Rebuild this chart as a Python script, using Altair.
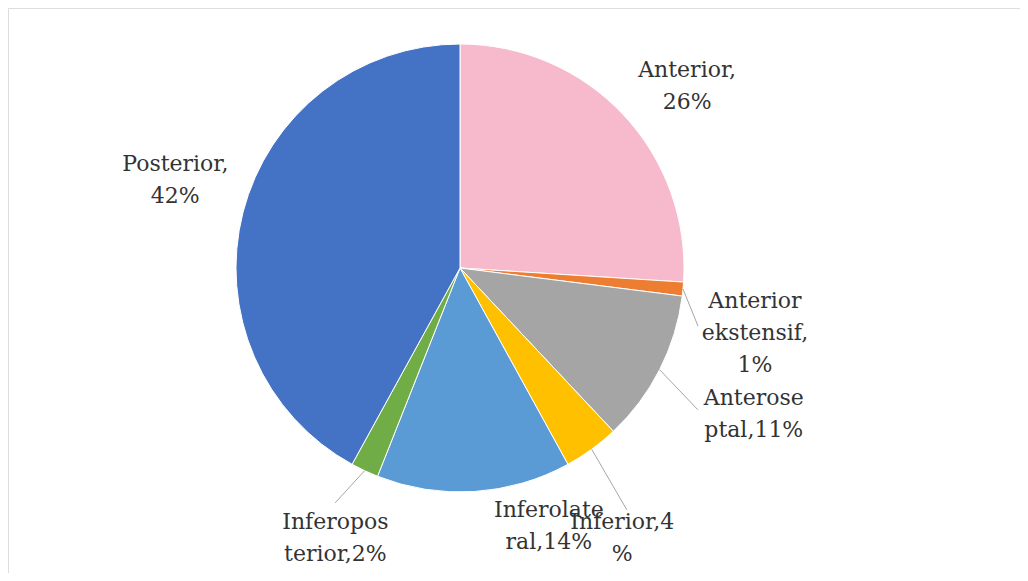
import math
import altair as alt
import pandas as pd

# ---- data ----
categories = ["Anterior", "Anterior ekstensif", "Anteroseptal", "Inferior",
              "Inferolateral", "Inferoposterior", "Posterior"]
values = [26, 1, 11, 4, 14, 2, 42]
label_texts = ["Anterior,\n26%", "Anterior\nekstensif,\n1%", "Anterose\nptal,11%",
               "Inferior,4\n%", "Inferolate\nral,14%", "Inferopos\nterior,2%",
               "Posterior,\n42%"]
colors = ["#F7B9CC", "#ED7D31", "#A5A5A5", "#FFC000", "#5B9BD5", "#70AD47", "#4472C4"]

# ---- layout (label placement, polar: degrees clockwise from top, px from centre) ----
CX, CY, R = 452, 260, 224
LH = 32
label_angle = [51.3, 102.4, 116.4, 149.0, 161.0, 204.8, 287.2]
label_radius = [291, 302, 328, 315, 273, 297, 298]
leader = {  # category -> (end angle, end radius)
    "Anterior ekstensif": (103.7, 245),
    "Anteroseptal": (120.8, 277),
    "Inferior": (145.4, 294),
    "Inferoposterior": (208.0, 266),
}

total = sum(values)
rows = []
cum = 0
for i, (c, v) in enumerate(zip(categories, values)):
    mid = (cum + v / 2) / total * 360
    cum += v
    la, lr = math.radians(label_angle[i]), label_radius[i]
    n = label_texts[i].count("\n") + 1
    rows.append(dict(idx=i, category=c, value=v, label=label_texts[i],
                     lx=CX + lr * math.sin(la),
                     ly=CY - lr * math.cos(la) - (n - 1) * LH / 2,
                     mid=mid))
df = pd.DataFrame(rows)

lines = []
for c, (ea, er) in leader.items():
    mid = df.loc[df.category == c, "mid"].iloc[0]
    m = math.radians(mid)
    e = math.radians(ea)
    lines.append(dict(category=c,
                      x=CX + R * math.sin(m), y=CY - R * math.cos(m),
                      x2=CX + er * math.sin(e), y2=CY - er * math.cos(e)))
ldf = pd.DataFrame(lines)

pie = alt.Chart(df).mark_arc(radius=R, stroke="white", strokeWidth=1).encode(
    theta=alt.Theta("value:Q", stack=True),
    color=alt.Color("category:N", scale=alt.Scale(domain=categories, range=colors), legend=None),
    order=alt.Order("idx:Q"),
    x=alt.value(CX),
    y=alt.value(CY),
)

rules = alt.Chart(ldf).mark_rule(color="#A6A6A6", strokeWidth=1).encode(
    x=alt.X("x:Q", scale=None),
    y=alt.Y("y:Q", scale=None),
    x2="x2:Q",
    y2="y2:Q",
)

labels = alt.Chart(df).mark_text(
    font="DejaVu Serif", fontSize=22, color="#333333",
    lineBreak="\n", lineHeight=LH, align="center", baseline="middle",
).encode(
    x=alt.X("lx:Q", scale=None),
    y=alt.Y("ly:Q", scale=None),
    text="label:N",
)

chart = alt.layer(pie, rules, labels).properties(
    width=1012, height=565, padding=0,
).configure_view(stroke="#DDDDDD", strokeWidth=1)

chart.save("out.html", embed_options={"renderer": "svg", "actions": False})
